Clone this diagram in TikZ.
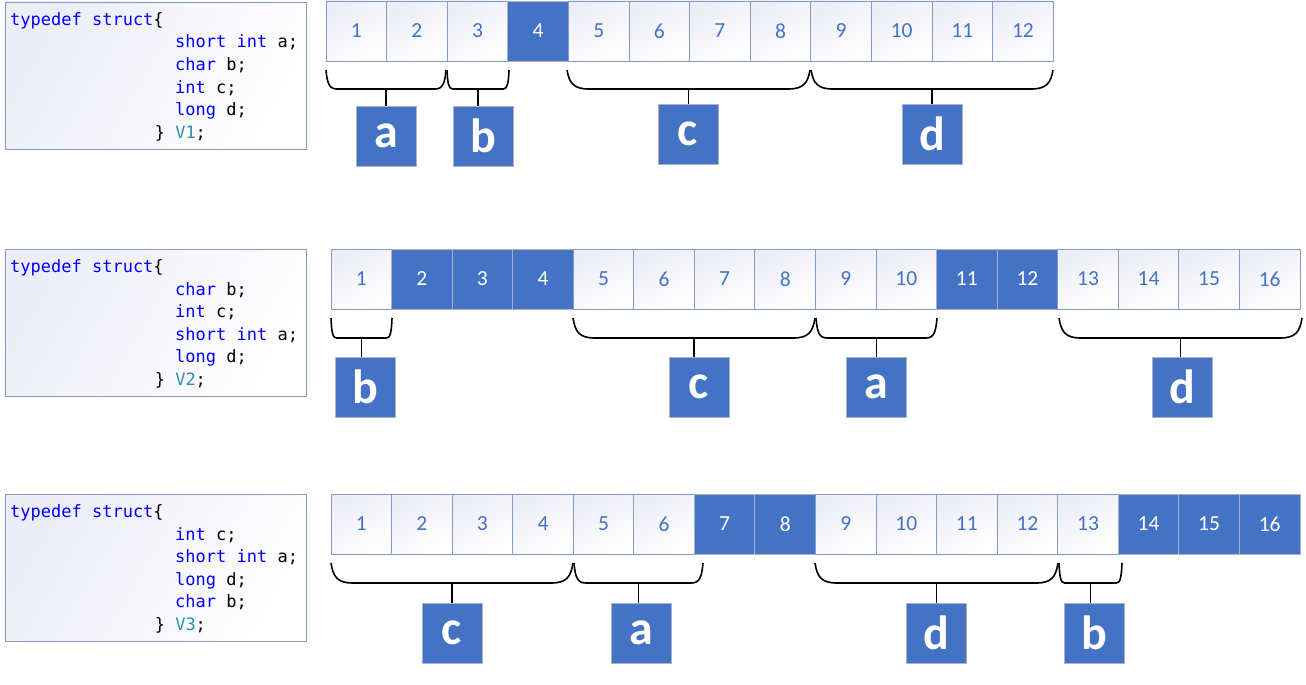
\documentclass[tikz,border=0pt]{standalone}
\usepackage{fontspec}
\setmainfont{Carlito}
\newfontfamily\codefont{DejaVu Sans Mono}
\definecolor{cellblue}{HTML}{4472C4}
\definecolor{cellline}{HTML}{7F9BD0}
\definecolor{boxline}{HTML}{A9B3C4}
\definecolor{lav}{HTML}{ECEDF6}
\definecolor{kw}{HTML}{0000FF}
\definecolor{tp}{HTML}{2B91AF}
\tikzset{
  cw/.style={draw=cellline, line width=0.9pt, top color=lav, bottom color=white, shading angle=30,
     minimum width=60.6pt, minimum height=60pt, inner sep=0pt, outer sep=0pt,
     font=\fontsize{21.5}{22}\selectfont, text=cellblue},
  cb/.style={draw=boxline, line width=0.9pt, fill=cellblue,
     minimum width=60.6pt, minimum height=60pt, inner sep=0pt, outer sep=0pt,
     font=\fontsize{21.5}{22}\selectfont, text=white},
  lbox/.style={draw=boxline, line width=0.9pt, fill=cellblue, minimum width=60pt, minimum height=60pt,
     inner sep=0pt, outer sep=0pt, text=white, font=\fontsize{48}{48}\selectfont\bfseries},
  codebox/.style={draw=cellline, line width=0.9pt, left color=lav, right color=white, shading angle=60,
     inner sep=0pt, outer sep=0pt},
  codeline/.style={anchor=base west, inner sep=0pt, font=\codefont\fontsize{17}{20}\selectfont},
  bracel/.style={draw=black, line width=1.6pt},
}
\newcommand\brc[5]{%
  \pgfmathsetmacro\bw{#3-#2}%
  \pgfmathsetmacro\br{max(5,0.09*\bw)}%
  \draw[bracel] (#2,#4) .. controls ({#2+0.1*\br},{#5-6}) and ({#2+0.3*\br},#5) .. ({#2+\br},#5)
     -- ({#3-\br},#5) .. controls ({#3-0.3*\br},#5) and ({#3-0.1*\br},{#5-6}) .. (#3,#4);
  \coordinate (#1) at ({(#2+#3)/2},#5);
}
\newcommand\codeblk[7]{% name, ytop, l1..l4, V
  \shade[codebox] (5,#2) rectangle (306,{#2+147});
  \draw[cellline, line width=0.9pt] (5,#2) rectangle (306,{#2+147});
  \node[codeline] (#1t) at (10,{#2+23.5}) {\textcolor{kw}{typedef struct}\{};
  \node[codeline] (#1l1) at (175,{#2+46}) {#3};
  \node[codeline] (#1l2) at (175,{#2+68.5}) {#4};
  \node[codeline] (#1l3) at (175,{#2+91}) {#5};
  \node[codeline] (#1l4) at (175,{#2+113.5}) {#6};
  \node[codeline] (#1l5) at (154.6,{#2+136}) {\}\ \textcolor{tp}{#7};};
}
\newcommand\ksh{\textcolor{kw}{short int} a;}
\newcommand\kch{\textcolor{kw}{char} b;}
\newcommand\kin{\textcolor{kw}{int} c;}
\newcommand\klo{\textcolor{kw}{long} d;}
\begin{document}
\begin{tikzpicture}[x=1pt,y=-1pt]
\useasboundingbox (0,0) rectangle (1306,685);
% code boxes
\codeblk{ca}{2}{\ksh}{\kch}{\kin}{\klo}{V1}
\codeblk{cb}{249}{\kch}{\kin}{\ksh}{\klo}{V2}
\codeblk{cc}{494}{\kin}{\ksh}{\klo}{\kch}{V3}
% row 1 cells
\foreach \i/\s in {1/cw,2/cw,3/cw,4/cb,5/cw,6/cw,7/cw,8/cw,9/cw,10/cw,11/cw,12/cw}
  \node[\s] (r1c\i) at ({326+60.6*(\i-0.5)},31) {\i};
% row 2 cells
\foreach \i/\s in {1/cw,2/cb,3/cb,4/cb,5/cw,6/cw,7/cw,8/cw,9/cw,10/cw,11/cb,12/cb,13/cw,14/cw,15/cw,16/cw}
  \node[\s] (r2c\i) at ({331+60.56*(\i-0.5)},279) {\i};
% row 3 cells
\foreach \i/\s in {1/cw,2/cw,3/cw,4/cw,5/cw,6/cw,7/cb,8/cb,9/cw,10/cw,11/cw,12/cw,13/cw,14/cb,15/cb,16/cb}
  \node[\s] (r3c\i) at ({331+60.56*(\i-0.5)},524) {\i};
% letter boxes
\node[lbox] (r1a) at (386,136) {a};
\node[lbox] (r1b) at (483,136) {b};
\node[lbox] (r1c) at (688,134) {c};
\node[lbox] (r1d) at (932,134) {d};
\node[lbox] (r2b) at (365,387) {b};
\node[lbox] (r2c) at (699,387) {c};
\node[lbox] (r2a) at (876,387) {a};
\node[lbox] (r2d) at (1182,387) {d};
\node[lbox] (r3c) at (452,633) {c};
\node[lbox] (r3a) at (641,633) {a};
\node[lbox] (r3d) at (936,633) {d};
\node[lbox] (r3b) at (1094,633) {b};
% braces
\brc{br1a}{326}{446}{70}{89}
\brc{br1b}{447}{509}{70}{89}
\brc{br1c}{567}{810}{70}{89}
\brc{br1d}{811}{1053}{70}{89}
\brc{br2b}{331}{392}{318}{338}
\brc{br2c}{573}{815}{318}{338}
\brc{br2a}{816}{937}{318}{338}
\brc{br2d}{1059}{1302}{318}{338}
\brc{br3c}{331}{573}{563}{583}
\brc{br3a}{574}{703}{563}{583}
\brc{br3d}{815}{1058}{563}{583}
\brc{br3b}{1059}{1122}{563}{583}
% stems
\foreach \r/\l in {1/a,1/b,1/c,1/d,2/a,2/b,2/c,2/d,3/a,3/b,3/c,3/d}
  \draw[bracel] (br\r\l) -- (br\r\l |- r\r\l.north);
\end{tikzpicture}
\end{document}
